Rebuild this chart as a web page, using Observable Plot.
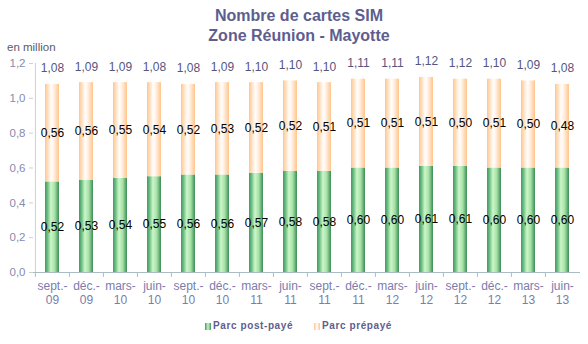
<!DOCTYPE html>
<html><head><meta charset="utf-8">
<script src="https://cdn.jsdelivr.net/npm/d3@7"></script>
<script src="https://cdn.jsdelivr.net/npm/@observablehq/plot@0.6"></script>
<style>
body{margin:0;background:#fff;font-family:"Liberation Sans",Arial,sans-serif;}
#wrap{position:relative;width:588px;height:344px;overflow:hidden;}
#title{height:46px;box-sizing:border-box;padding-top:6px;padding-left:10px;text-align:center;font-weight:bold;font-size:16px;line-height:20px;color:#5e5e8e;}
#unit{position:absolute;left:7px;top:41px;font-size:11.5px;color:#5a5a6a;}
.leg{position:absolute;top:320px;font-size:10px;font-weight:bold;color:#5e5e8e;letter-spacing:0.6px;white-space:nowrap;}
.sw{display:inline-block;width:6px;height:7px;margin-right:2px;vertical-align:-1px;}
#chart svg{display:block;}
</style></head>
<body>
<div id="wrap">
  <div id="title">Nombre de cartes SIM<br>Zone Réunion - Mayotte</div>
  <div id="unit">en million</div>
  <div id="chart"></div>
  <div class="leg" style="left:205px"><span class="sw" style="background:linear-gradient(90deg,#3f9a5f,#c8f5c4,#3f9a5f)"></span>Parc post-payé</div>
  <div class="leg" style="left:314px"><span class="sw" style="background:linear-gradient(90deg,#ffc58c,#fff,#ffc58c)"></span>Parc prépayé</div>
</div>
<script>
const categories = ["sept.-09","déc.-09","mars-10","juin-10","sept.-10","déc.-10","mars-11","juin-11","sept.-11","déc.-11","mars-12","juin-12","sept.-12","déc.-12","mars-13","juin-13"];
const postpaid = [0.52,0.53,0.54,0.55,0.56,0.56,0.57,0.58,0.58,0.60,0.60,0.61,0.61,0.60,0.60,0.60];
const prepaid  = [0.56,0.56,0.55,0.54,0.52,0.53,0.52,0.52,0.51,0.51,0.51,0.51,0.50,0.51,0.50,0.48];
const totals   = [1.08,1.09,1.09,1.08,1.08,1.09,1.10,1.10,1.10,1.11,1.11,1.12,1.12,1.10,1.09,1.08];
const series = ["Parc post-payé","Parc prépayé"];
const yTicks = [0,0.2,0.4,0.6,0.8,1.0,1.2];

const rows = categories.flatMap((c,i)=>[
  {cat:c, serie:series[0], value:postpaid[i]},
  {cat:c, serie:series[1], value:prepaid[i]}
]);
const totalRows = categories.map((c,i)=>({cat:c, top:postpaid[i]+prepaid[i], total:totals[i]}));
const fmt2 = v => v.toFixed(2).replace(".", ",");
const W = 588, ML = 33, MR = 8;
const step = (W-ML-MR)/categories.length;

const chart = Plot.plot({
  width: W, height: 268,
  marginTop: 17, marginBottom: 42, marginLeft: ML, marginRight: MR,
  style: {fontFamily: "'Liberation Sans', Arial, sans-serif", fontSize: "11px", background: "transparent", overflow: "visible"},
  x: {domain: categories, padding: 0, axis: null, label: null},
  y: {domain: [0, 1.2], axis: null, label: null},
  color: {domain: series, range: ["url(#gPost)", "url(#gPre)"]},
  marks: [
    Plot.ruleY([0], {stroke: "#a9bcc4"}),
    Plot.ruleX(categories, {x: d=>d, y1: 0, y2: -0.028, dx: -step/2, stroke: "#a9bcc4"}),
    Plot.ruleX([categories[0]], {x: d=>d, y1: 0, y2: 1.2, dx: -step/2, stroke: "#cfcfcf"}),
    Plot.axisY({ticks: yTicks, tickFormat: d => d.toFixed(1).replace(".", ","), tickSize: 4, tickPadding: 4, stroke: "#cfcfcf", fill: "#8a8ab0", fontSize: 11.5, label: null}),
    Plot.axisX({tickSize: 0, tickPadding: 7, tickFormat: c => c.replace(/-(?=[^-]*$)/, "-\n"), fill: "#7c7cac", fontSize: 12, lineHeight: 1.18, label: null}),
    Plot.barY(rows, Plot.stackY({x: "cat", y: "value", fill: "serie", insetLeft: 10, insetRight: 10})),
    Plot.text(rows, Plot.stackY({x: "cat", y: "value", text: d => fmt2(d.value), fill: "#000", fontSize: 12})),
    Plot.text(totalRows, {x: "cat", y: "top", text: d => fmt2(d.total), dy: -16, fill: "#55557f", fontSize: 12})
  ]
});

const defs = document.createElementNS("http://www.w3.org/2000/svg", "defs");
defs.innerHTML = `
<linearGradient id="gPost" x1="0" x2="1" y1="0" y2="0">
  <stop offset="0" stop-color="#3f9a5f"/>
  <stop offset="0.18" stop-color="#6cbd84"/>
  <stop offset="0.42" stop-color="#ccf7c8"/>
  <stop offset="0.7" stop-color="#a6e0a6"/>
  <stop offset="1" stop-color="#3a8c56"/>
</linearGradient>
<linearGradient id="gPre" x1="0" x2="1" y1="0" y2="0">
  <stop offset="0" stop-color="#ffc58c"/>
  <stop offset="0.45" stop-color="#ffffff"/>
  <stop offset="0.6" stop-color="#fff4ea"/>
  <stop offset="1" stop-color="#ffc58c"/>
</linearGradient>`;
chart.insertBefore(defs, chart.firstChild);
document.getElementById("chart").appendChild(chart);
</script>
</body></html>
